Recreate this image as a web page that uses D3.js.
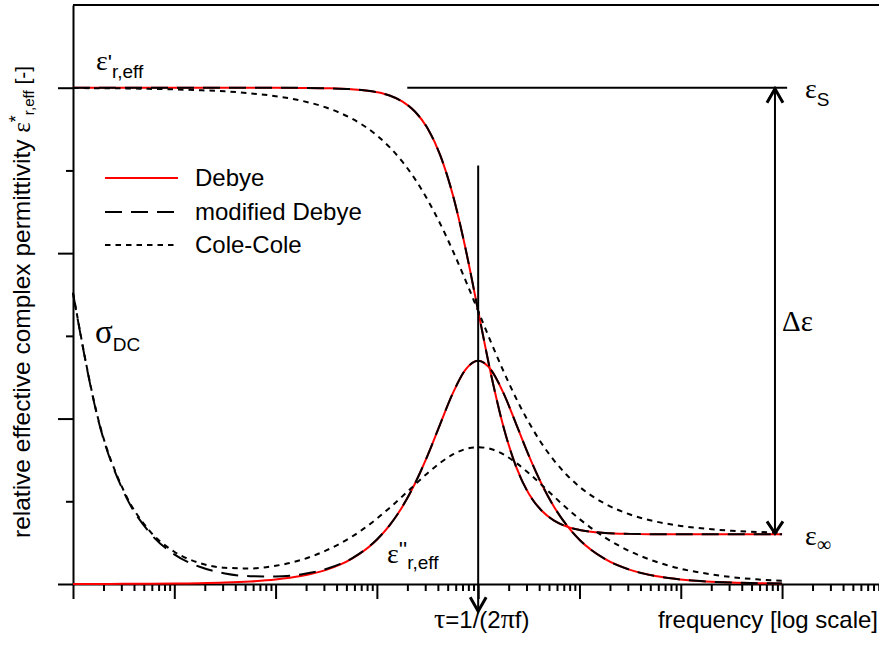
<!DOCTYPE html>
<html>
<head>
<meta charset="utf-8">
<script src="https://cdn.jsdelivr.net/npm/d3@7"></script>
<style>
  body { margin: 0; background: #fff; }
  svg { display: block; }
  text { font-family: "Liberation Sans", Arial, sans-serif; fill: #000; }
</style>
</head>
<body>
<svg id="chart"></svg>
<script>
// log10 of frequency (tau at 0)
let logF = [-4, -3.75, -3.5, -3.25, -3, -2.75, -2.5, -2.25, -2, -1.75, -1.5, -1.25,
            -1, -0.875, -0.75, -0.625, -0.5, -0.375, -0.25, -0.125, 0, 0.125, 0.25, 0.375, 0.5, 0.625, 0.75, 0.875, 1,
            1.25, 1.5, 1.75, 2, 2.25, 2.5, 2.75, 3]

let debyeReal = [3.000, 3.000, 3.000, 3.000, 3.000, 3.000, 3.000, 3.000, 3.000, 2.999, 2.997, 2.991,
                 2.973, 2.953, 2.917, 2.856, 2.755, 2.592, 2.351, 2.028, 1.650, 1.272, 0.949, 0.708, 0.545, 0.444, 0.383, 0.347, 0.327,
                 0.309, 0.303, 0.301, 0.300, 0.300, 0.300, 0.300, 0.300]
let debyeImag = [0.000, 0.0005, 0.0009, 0.0015, 0.0027, 0.0048, 0.0085, 0.0152, 0.0270, 0.0480, 0.0853, 0.1513,
                 0.2673, 0.3539, 0.4654, 0.6061, 0.7762, 0.9667, 1.1535, 1.2960, 1.3500, 1.2960, 1.1535, 0.9667, 0.7762, 0.6061, 0.4654, 0.3539, 0.2673,
                 0.1513, 0.0853, 0.0480, 0.0270, 0.0152, 0.0085, 0.0048, 0.0027]
let modDebyeReal = debyeReal
let modDebyeImag = [1.758, 0.990, 0.557, 0.315, 0.179, 0.104, 0.064, 0.047, 0.045, 0.058, 0.091, 0.154,
                    0.269, 0.355, 0.466, 0.606, 0.7762, 0.9667, 1.1535, 1.2960, 1.3500, 1.2960, 1.1535, 0.9667, 0.7762, 0.6061, 0.4654, 0.3539, 0.2673,
                    0.1513, 0.0853, 0.0480, 0.0270, 0.0152, 0.0085, 0.0048, 0.0027]
let coleReal = [2.998, 2.997, 2.996, 2.993, 2.990, 2.985, 2.978, 2.966, 2.949, 2.922, 2.880, 2.814,
                2.712, 2.641, 2.554, 2.449, 2.323, 2.178, 2.014, 1.836, 1.650, 1.464, 1.286, 1.122, 0.977, 0.851, 0.746, 0.659, 0.588,
                0.486, 0.420, 0.378, 0.351, 0.334, 0.322, 0.315, 0.310]
let coleImag = [1.762, 0.995, 0.565, 0.326, 0.195, 0.127, 0.098, 0.094, 0.110, 0.145, 0.203, 0.285,
                0.395, 0.460, 0.529, 0.600, 0.670, 0.732, 0.783, 0.816, 0.827, 0.816, 0.783, 0.732, 0.670, 0.600, 0.528, 0.458, 0.393,
                0.282, 0.197, 0.136, 0.092, 0.063, 0.042, 0.028, 0.019]

let legendLabels = ["Debye", "modified Debye", "Cole-Cole"]

let epsS = 3.0
let epsInf = 0.3

let width = 879
let height = 646

let svg = d3.select("#chart").attr("width", width).attr("height", height)

let xScale = d3.scaleLog().domain([1e-4, Math.pow(10, 3.957)]).range([73, 879])
let yScale = d3.scaleLinear().domain([0, 3.5]).range([584, 5])

let pts = (arr) => arr.map((v, i) => [Math.pow(10, logF[i]), v])

let line = d3.line()
  .x(d => xScale(d[0]))
  .y(d => yScale(d[1]))
  .curve(d3.curveMonotoneX)

// axes
let majorX = d3.range(-4, 4).map(n => Math.pow(10, n))
let minorX = []
d3.range(-4, 4).forEach(n => { for (let k = 2; k <= 9; k++) minorX.push(k * Math.pow(10, n)) })

let styleAxis = (g) => {
  g.selectAll("path, line").attr("stroke", "#000").attr("stroke-width", 2)
}

svg.append("g")
   .attr("transform", "translate(0,584)")
   .call(d3.axisBottom(xScale).tickValues(majorX).tickSize(15).tickSizeOuter(0).tickFormat(""))
   .call(styleAxis)
svg.append("g")
   .attr("transform", "translate(0,584)")
   .call(d3.axisBottom(xScale).tickValues(minorX).tickSize(7).tickSizeOuter(0).tickFormat(""))
   .call(styleAxis)
   .select(".domain").remove()

svg.append("g")
   .attr("transform", "translate(73,0)")
   .call(d3.axisLeft(yScale).tickValues([0, 1, 2, 3]).tickSize(15).tickSizeOuter(0).tickFormat(""))
   .call(styleAxis)
svg.append("g")
   .attr("transform", "translate(73,0)")
   .call(d3.axisLeft(yScale).tickValues([0.5, 1.5, 2.5]).tickSize(7).tickSizeOuter(0).tickFormat(""))
   .call(styleAxis)
   .select(".domain").remove()

// top frame
svg.append("line")
   .attr("x1", 73).attr("x2", 879)
   .attr("y1", yScale(3.5)).attr("y2", yScale(3.5))
   .attr("stroke", "#000").attr("stroke-width", 2)

// curves
let curves = [
  { data: debyeReal, color: "red", dash: null },
  { data: debyeImag, color: "red", dash: null },
  { data: modDebyeReal, color: "#000", dash: "17,9" },
  { data: modDebyeImag, color: "#000", dash: "17,9" },
  { data: coleReal, color: "#000", dash: "5.5,5" },
  { data: coleImag, color: "#000", dash: "5.5,5" }
]

curves.forEach(c => {
  svg.append("path")
     .datum(pts(c.data))
     .attr("d", line)
     .attr("fill", "none")
     .attr("stroke", c.color)
     .attr("stroke-width", 2)
     .attr("stroke-dasharray", c.dash)
})

// eps_s level line and delta-eps arrow
let arrowF = Math.pow(10, 2.93)
svg.append("line")
   .attr("x1", xScale(Math.pow(10, -0.7))).attr("x2", xScale(Math.pow(10, 3.05)))
   .attr("y1", yScale(epsS)).attr("y2", yScale(epsS))
   .attr("stroke", "#000").attr("stroke-width", 2)

let ax = xScale(arrowF)
svg.append("line")
   .attr("x1", ax).attr("x2", ax)
   .attr("y1", yScale(epsS) + 2).attr("y2", yScale(epsInf) - 2)
   .attr("stroke", "#000").attr("stroke-width", 2)
svg.append("path")
   .attr("d", `M${ax - 8},${yScale(epsS) + 15}L${ax},${yScale(epsS) + 1}L${ax + 8},${yScale(epsS) + 15}`)
   .attr("fill", "none").attr("stroke", "#000").attr("stroke-width", 3)
svg.append("path")
   .attr("d", `M${ax - 8},${yScale(epsInf) - 13}L${ax},${yScale(epsInf) - 1}L${ax + 8},${yScale(epsInf) - 13}`)
   .attr("fill", "none").attr("stroke", "#000").attr("stroke-width", 3)

// tau line
let tx = xScale(1)
svg.append("line")
   .attr("x1", tx).attr("x2", tx)
   .attr("y1", yScale(2.53)).attr("y2", yScale(-0.16))
   .attr("stroke", "#000").attr("stroke-width", 2)
svg.append("path")
   .attr("d", `M${tx - 8},${yScale(-0.08)}L${tx},${yScale(-0.165)}L${tx + 8},${yScale(-0.08)}`)
   .attr("fill", "none").attr("stroke", "#000").attr("stroke-width", 3)

// legend
let legend = svg.append("g")
legendLabels.forEach((lab, i) => {
  let ly = [178, 212, 245][i]
  legend.append("line")
     .attr("x1", 105).attr("x2", 178).attr("y1", ly).attr("y2", ly)
     .attr("stroke", curves[i * 2].color).attr("stroke-width", 2)
     .attr("stroke-dasharray", curves[i * 2].dash)
  legend.append("text")
     .attr("x", 195).attr("y", ly + 8)
     .style("font-size", "24px")
     .text(lab)
})

// labels with sub/superscripts
let label = (x, y, parts, rotate) => {
  let t = svg.append("text").attr("x", x).attr("y", y)
  if (rotate) t.attr("transform", `rotate(-90,${x},${y})`)
  parts.forEach(p => {
    let s = t.append("tspan").text(p.t).style("font-size", p.size + "px")
    if (p.dy) s.attr("dy", p.dy)
    if (p.serif) s.style("font-family", "'Liberation Serif', serif")
  })
  return t
}

label(96, 70, [{ t: "ε", size: 28, serif: true }, { t: "'", size: 22 }, { t: "r,eff", size: 19, dy: 8 }])
label(805, 98, [{ t: "ε", size: 28, serif: true }, { t: "S", size: 19, dy: 8 }])
label(805, 545, [{ t: "ε", size: 28, serif: true }, { t: "∞", size: 20, dy: 6, serif: true }])
label(782, 331, [{ t: "Δε", size: 29, serif: true }])
label(95, 343, [{ t: "σ", size: 33, serif: true }, { t: "DC", size: 19, dy: 8 }])
label(387, 563, [{ t: "ε", size: 28, serif: true }, { t: "''", size: 22, dy: -6 }, { t: "r,eff", size: 19, dy: 12 }])

label(434, 628, [{ t: "τ", size: 28, serif: true }, { t: "=1/(2", size: 24 }, { t: "π", size: 28, serif: true }, { t: "f)", size: 24 }])
svg.append("text")
   .attr("x", 878).attr("y", 628)
   .attr("text-anchor", "end")
   .style("font-size", "24px")
   .text("frequency [log scale]")

label(30, 538, [{ t: "relative effective complex permittivity ", size: 24.5 },
                { t: "ε", size: 25, serif: true },
                { t: "*", size: 18, dy: -8 },
                { t: "r,eff", size: 15, dy: 12 },
                { t: " [-]", size: 21, dy: -4 }], true)
</script>
</body>
</html>
